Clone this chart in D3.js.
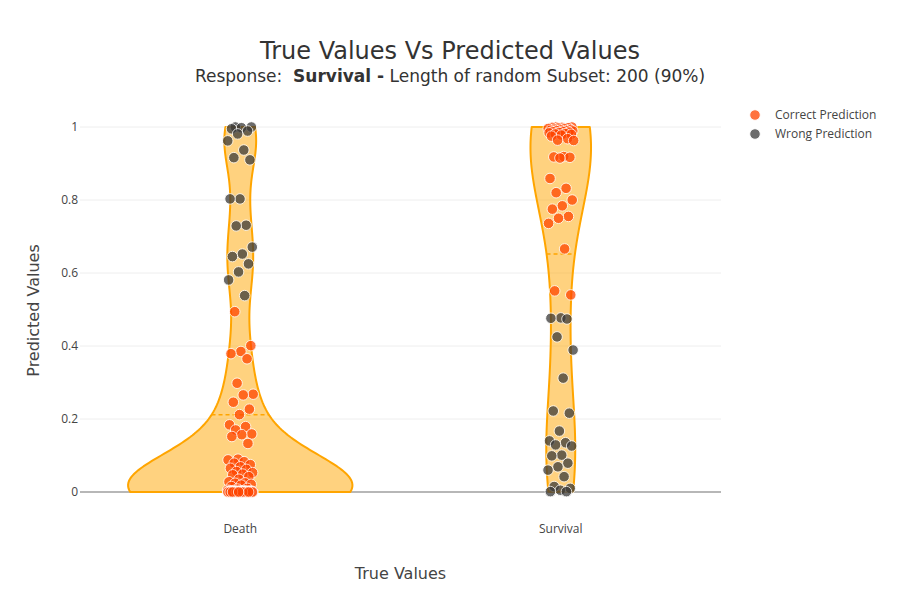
<!DOCTYPE html>
<html lang="en">
<head>
	<meta charset="utf-8">
	<title>True Values Vs Predicted Values</title>
	<script src="https://d3js.org/d3.v7.min.js"></script>
	<style type="text/css">
		body { margin: 0; background: #fff; }
		svg { display: block; }
		.tick-label { font-family: "Open Sans", sans-serif; font-size: 12px; fill: #444; }
		.axis-title { font-family: "DejaVu Sans", sans-serif; font-size: 16px; fill: #444; }
		.legend-label { font-family: "Open Sans", sans-serif; font-size: 12px; fill: #444; }
	</style>
</head>
<body>
	<svg id="chart" width="900" height="600"></svg>

	<script type="text/javascript">

	// Data (predicted survival probability per sample)
	var categories = ["Death", "Survival"]

	var deathValues = [
		1.000, 1.000, 0.998, 0.995, 0.989, 0.981, 0.962, 0.937, 0.916, 0.910,
		0.803, 0.803, 0.731, 0.729, 0.671, 0.652, 0.645, 0.625, 0.603, 0.581, 0.538,
		0.494, 0.401, 0.385, 0.379, 0.365, 0.298, 0.268, 0.266, 0.246, 0.227,
		0.212, 0.184, 0.179, 0.170, 0.159, 0.157, 0.152, 0.133, 0.090, 0.088,
		0.083, 0.079, 0.075, 0.069, 0.065, 0.062, 0.056, 0.053, 0.049, 0.047,
		0.042, 0.035, 0.028, 0.025, 0.024, 0.021, 0.019, 0.015, 0.010, 0.008,
		0.005, 0.004, 0.004, 0.003, 0.003, 0.003, 0.002, 0.002, 0.002, 0.002, 0.002,
		0.001, 0.001, 0.001, 0.001, 0.001, 0.001, 0.001, 0.001, 0.001, 0.001,
		0.000, 0.000, 0.000, 0.000, 0.000, 0.000, 0.000, 0.000, 0.000, 0.000,
		0.000, 0.000, 0.000, 0.000, 0.000, 0.000, 0.000, 0.000, 0.000, 0.000,
		0.000, 0.000, 0.000, 0.000, 0.000, 0.000
	]

	var survivalValues = [
		1.000, 1.000, 0.999, 0.999, 0.998, 0.997, 0.996, 0.995, 0.994, 0.993,
		0.992, 0.991, 0.990, 0.990, 0.989, 0.988, 0.987, 0.986, 0.985, 0.984,
		0.982, 0.981, 0.980, 0.978, 0.975, 0.968, 0.964, 0.963,
		0.919, 0.918, 0.917, 0.915, 0.859, 0.832, 0.820, 0.800, 0.784, 0.775,
		0.755, 0.750, 0.736, 0.666, 0.551, 0.540,
		0.477, 0.476, 0.474, 0.425, 0.389, 0.312, 0.222, 0.216, 0.167, 0.140,
		0.135, 0.129, 0.126, 0.101, 0.099, 0.079, 0.069, 0.060, 0.042, 0.015,
		0.010, 0.005, 0.001, 0.001
	]

	var yTickValues = [0, 0.2, 0.4, 0.6, 0.8, 1]
	var legendLabels = ["Correct Prediction", "Wrong Prediction"]
	var threshold = 0.5

	// Colors
	var violinLine = "#FFA500"
	var violinFill = "rgba(255,165,0,0.5)"
	var colorCorrect = "#FF4500"
	var colorWrong = "#3a3a3a"
	var markerOpacity = 0.75

	// Layout
	var margin = {top: 127, bottom: 108, left: 80, right: 179}
	var width = 900 - margin.left - margin.right
	var height = 600 - margin.top - margin.bottom
	var violinGap = 0.3
	var jitterPx = 13

	var svg = d3.select("#chart")

	var x = d3.scaleBand()
		.domain(categories)
		.range([margin.left, margin.left + width])

	var y = d3.scaleLinear()
		.domain([0, 1])
		.range([margin.top + height, margin.top])

	// Kernel density per violin (gaussian, silverman bandwidth, hard span)
	var groups = categories.map(function(c, i) {
		var v = [deathValues, survivalValues][i].slice().sort(d3.ascending)
		var n = v.length
		var sd = d3.deviation(v)
		var iqr = d3.quantile(v, 0.75) - d3.quantile(v, 0.25)
		var bw = 1.059 * Math.min(sd, iqr / 1.349) * Math.pow(n, -0.2)
		var kde = function(t) {
			return d3.sum(v, function(xi) {
				var u = (t - xi) / bw
				return Math.exp(-0.5 * u * u)
			}) / (n * bw * Math.sqrt(2 * Math.PI))
		}
		var span = d3.extent(v)
		var grid = d3.range(0, 201).map(function(k) { return span[0] + (span[1] - span[0]) * k / 200 })
		var dens = grid.map(function(t) { return {y: t, d: kde(t)} })
		return {
			name: c,
			raw: [deathValues, survivalValues][i],
			n: n,
			mean: d3.mean(v),
			kde: kde,
			dens: dens,
			maxKde: d3.max(dens, function(d) { return d.d })
		}
	})

	// scale by count, like a shared scale group
	var maxKde = d3.max(groups, function(g) { return g.maxKde })
	var maxCount = d3.max(groups, function(g) { return g.n })
	var bdPos = x.bandwidth() / 2 * (1 - violinGap)
	function halfWidth(g, d) {
		return d * bdPos * g.n / (maxKde * maxCount)
	}

	// grid lines
	svg.append("g")
		.selectAll("line")
		.data(yTickValues.filter(function(t) { return t !== 0 }))
		.join("line")
		.attr("x1", margin.left)
		.attr("x2", margin.left + width)
		.attr("y1", function(d) { return y(d) })
		.attr("y2", function(d) { return y(d) })
		.attr("stroke", "#eeeeee")
		.attr("stroke-width", 1)

	// zero line
	svg.append("line")
		.attr("x1", margin.left)
		.attr("x2", margin.left + width)
		.attr("y1", y(0))
		.attr("y2", y(0))
		.attr("stroke", "#707070")
		.attr("stroke-width", 1.2)

	// y tick labels
	svg.append("g")
		.selectAll("text")
		.data(yTickValues)
		.join("text")
		.attr("class", "tick-label")
		.attr("x", margin.left - 2)
		.attr("y", function(d) { return y(d) + 4 })
		.attr("text-anchor", "end")
		.text(function(d) { return d3.format("~g")(d) })

	// x tick labels
	svg.append("g")
		.selectAll("text")
		.data(categories)
		.join("text")
		.attr("class", "tick-label")
		.attr("x", function(d) { return x(d) + x.bandwidth() / 2 })
		.attr("y", y(0) + 41)
		.attr("text-anchor", "middle")
		.text(function(d) { return d })

	// violins
	var this_cx, this_g
	var area = d3.area()
		.y(function(d) { return y(d.y) })
		.x0(function(d) { return this_cx - halfWidth(this_g, d.d) })
		.x1(function(d) { return this_cx + halfWidth(this_g, d.d) })

	var violins = svg.append("g")
	groups.forEach(function(g) {
		this_g = g
		this_cx = x(g.name) + x.bandwidth() / 2
		violins.append("path")
			.attr("d", area(g.dens))
			.attr("fill", violinFill)
			.attr("stroke", violinLine)
			.attr("stroke-width", 2)
			.attr("stroke-linejoin", "round")

		// mean line
		var hw = halfWidth(g, g.kde(g.mean))
		violins.append("line")
			.attr("x1", this_cx - hw)
			.attr("x2", this_cx + hw)
			.attr("y1", y(g.mean))
			.attr("y2", y(g.mean))
			.attr("stroke", violinLine)
			.attr("stroke-width", 1.5)
			.attr("stroke-dasharray", "4,3")
	})

	// points (deterministic jitter)
	var points = []
	groups.forEach(function(g) {
		var cx = x(g.name) + x.bandwidth() / 2
		g.raw.forEach(function(v, i) {
			var u = (i * 0.6180339887 + 0.31) % 1
			points.push({
				cx: cx + (u - 0.5) * 2 * jitterPx,
				v: v,
				correct: (g.name === "Survival") === (v >= threshold)
			})
		})
	})

	svg.append("g")
		.selectAll("circle")
		.data(points)
		.join("circle")
		.attr("cx", function(d) { return d.cx })
		.attr("cy", function(d) { return y(d.v) })
		.attr("r", 5.3)
		.attr("fill", function(d) { return d.correct ? colorCorrect : colorWrong })
		.attr("stroke", "#ffffff")
		.attr("stroke-width", 1)
		.attr("opacity", markerOpacity)

	// titles
	svg.append("text")
		.attr("x", 450)
		.attr("y", 59)
		.attr("text-anchor", "middle")
		.style("font-family", "'DejaVu Sans', sans-serif")
		.style("font-size", "24px")
		.style("fill", "#333")
		.text("True Values Vs Predicted Values")

	var sub = svg.append("text")
		.attr("x", 450)
		.attr("y", 82)
		.attr("text-anchor", "middle")
		.style("font-family", "'DejaVu Sans', sans-serif")
		.style("font-size", "17px")
		.style("fill", "#333")
		.style("white-space", "pre")
	sub.append("tspan").text("Response:  ")
	sub.append("tspan").text("Survival -").style("font-weight", "bold")
	sub.append("tspan").text(" Length of random Subset: 200 (90%)")

	svg.append("text")
		.attr("class", "axis-title")
		.attr("x", x.range()[0] + width / 2)
		.attr("y", 579)
		.attr("text-anchor", "middle")
		.text("True Values")

	svg.append("text")
		.attr("class", "axis-title")
		.attr("transform", "translate(39," + (margin.top + height / 2 + 1) + ") rotate(-90)")
		.attr("text-anchor", "middle")
		.text("Predicted Values")

	// legend
	var legend = svg.append("g")
		.selectAll("g")
		.data(legendLabels)
		.join("g")
		.attr("transform", function(d, i) { return "translate(755," + (115 + i * 19) + ")" })
	legend.append("circle")
		.attr("r", 5.3)
		.attr("fill", function(d, i) { return i === 0 ? colorCorrect : colorWrong })
		.attr("stroke", "#ffffff")
		.attr("stroke-width", 1)
		.attr("opacity", markerOpacity)
	legend.append("text")
		.attr("class", "legend-label")
		.attr("x", 20)
		.attr("y", 4)
		.text(function(d) { return d })

	</script>
</body>
</html>
